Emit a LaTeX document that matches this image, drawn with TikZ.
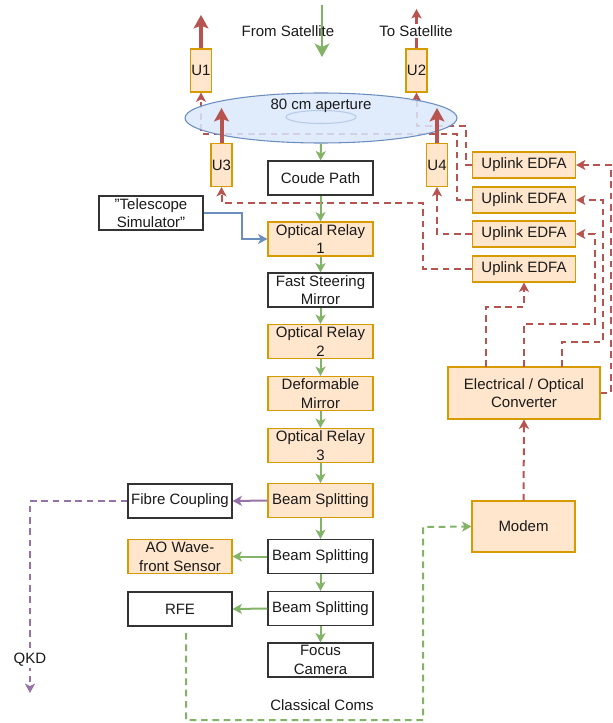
\documentclass[tikz,border=0pt]{standalone}
\usepackage{fontspec}
\setmainfont{Liberation Sans}
\usetikzlibrary{arrows.meta,shapes.geometric}
\definecolor{cred}{HTML}{B85450}
\definecolor{cgreen}{HTML}{82B366}
\definecolor{cpurple}{HTML}{9673A6}
\definecolor{cblue}{HTML}{6C8EBF}
\definecolor{borange}{HTML}{D79B00}
\definecolor{forange}{HTML}{FFE6CC}
\definecolor{fblue}{HTML}{DAE8FC}
\definecolor{cdark}{HTML}{333333}
\definecolor{ctext}{HTML}{1A1A1A}
\tikzset{
  box/.style={draw=cdark, line width=0.8pt, fill=white, align=center, inner sep=0pt,
    minimum width=105*0.75pt, minimum height=34*0.75pt, text=ctext},
  obox/.style={box, draw=borange, fill=forange},
  sbox/.style={box, minimum width=104*0.75pt},
  ebox/.style={obox, minimum width=103*0.75pt, minimum height=26*0.75pt},
  ubox/.style={obox, minimum width=21*0.75pt, minimum height=43*0.75pt},
  tip/.style={-{Stealth[length=7pt,width=7.5pt,inset=1.8pt]}},
  garrow/.style={draw=cgreen, line width=1.5pt, tip},
  parrow/.style={draw=cpurple, line width=1.5pt, tip},
  barrow/.style={draw=cblue, line width=1.5pt, tip},
  rdash/.style={draw=cred, line width=1.5pt, dash pattern=on 5pt off 3.5pt, tip},
  gdash/.style={draw=cgreen, line width=1.5pt, dash pattern=on 5pt off 3.5pt, tip},
  pdash/.style={draw=cpurple, line width=1.5pt, dash pattern=on 5pt off 3.5pt, tip},
  rthick/.style={draw=cred, line width=3pt, -{Stealth[length=10pt,width=11pt,inset=2pt]}},
  lbl/.style={text=ctext, inner sep=1pt},
}
\begin{document}
\begin{tikzpicture}[x=0.75pt,y=-0.75pt, font=\fontsize{11.25}{14}\selectfont]
\useasboundingbox (0,0) rectangle (612,723);

% central column
\node[box]  (coude) at (320.5,178) {Coude Path};
\node[obox] (or1)   at (320.5,239) {Optical Relay\\1};
\node[box]  (fsm)   at (320.5,290) {Fast Steering\\Mirror};
\node[obox] (or2)   at (320.5,341.5) {Optical Relay\\2};
\node[obox] (dm)    at (320.5,393.5) {Deformable\\Mirror};
\node[obox] (or3)   at (320.5,445.5) {Optical Relay\\3};
\node[obox] (bs1)   at (320.5,500.5) {Beam Splitting};
\node[box]  (bs2)   at (320.5,556.5) {Beam Splitting};
\node[box]  (bs3)   at (320.5,608.5) {Beam Splitting};
\node[box]  (fc)    at (320.5,660) {Focus\\Camera};

% left column
\node[sbox] (fib) at (180,501) {Fibre Coupling};
\node[sbox, draw=borange, fill=forange] (ao) at (180,556.5) {AO Wave-\\front Sensor};
\node[sbox] (rfe) at (180,609) {RFE};
\node[sbox] (tel) at (151,213) {\symbol{34}Telescope\\Simulator\symbol{34}};

% right side
\node[ebox] (e1) at (524,165) {Uplink EDFA};
\node[ebox] (e2) at (524,200) {Uplink EDFA};
\node[ebox] (e3) at (524,234) {Uplink EDFA};
\node[ebox] (e4) at (524,269) {Uplink EDFA};
\node[obox, minimum width=152*0.75pt, minimum height=52*0.75pt] (conv) at (524,393) {Electrical / Optical\\Converter};
\node[obox, minimum width=103*0.75pt, minimum height=51*0.75pt] (modem) at (523.5,526.5) {Modem};

% U boxes
\node[ubox] (u1) at (201,70.5) {U1};
\node[ubox] (u2) at (416.5,70.5) {U2};
\node[ubox] (u3) at (221.5,165) {U3};
\node[ubox] (u4) at (437,165) {U4};

% dashed red connections (behind the aperture)
\draw[rdash] (e1.west) -- (466,165) -- (466,126) -- (416.5,126) -- (u2.south);
\draw[rdash] (e2.west) -- (457,200) -- (457,134) -- (201,134) -- (u1.south);
\draw[rdash] (e3.west) -- (437,234) -- (u4.south);
\draw[rdash] (e4.west) -- (423,269) -- (423,203) -- (221.5,203) -- (u3.south);

\draw[rdash] (486,367) -- (486,307) -- (524,307) -- (e4.south);
\draw[rdash] (524,367) -- (524,324) -- (595,324) -- (595,234) -- (e3.east);
\draw[rdash] (562,367) -- (562,342) -- (603,342) -- (603,200) -- (e2.east);
\draw[rdash] (conv.east) -- (611,393) -- (611,165) -- (e1.east);
\draw[rdash] (modem.north) -- (conv.south);

% aperture
\node[ellipse, draw=cblue, line width=0.8pt, fill=fblue, fill opacity=0.85,
      minimum width=272*0.75pt, minimum height=50*0.75pt, inner sep=0pt] (ap) at (321,118) {};
\draw[cblue, opacity=0.35, line width=0.8pt] (321,117) ellipse [x radius=35*0.75pt, y radius=6.5*0.75pt];
\node[lbl] (aplbl) at (321,106) {80 cm aperture};

% thick red uplink arrows
\coordinate (u1t) at (201,15);
\coordinate (u2t) at (416.5,9);
\coordinate (u3t) at (221.5,108);
\coordinate (u4t) at (437,108);
\draw[rthick] (u1.north) -- (u1t);
\draw[draw=cred, line width=2pt, -{Stealth[length=7pt,width=7.5pt,inset=1.5pt]}] (u2.north) -- (u2t);
\draw[rthick] (u3.north) -- (u3t);
\draw[rthick] (u4.north) -- (u4t);

% from satellite
\coordinate (satA) at (322,5);
\coordinate (satB) at (322,57);
\draw[draw=cgreen, line width=2.2pt, -{Stealth[length=10pt,width=11pt,inset=2.5pt]}] (satA) -- (satB);
\node[lbl] (fromsat) at (288,31) {From Satellite};
\node[lbl, fill=white] (tosat) at (416,31) {To Satellite};

% green optical chain
\draw[garrow] (ap.south) -- (coude.north);
\draw[garrow] (coude) -- (or1);
\draw[garrow] (or1) -- (fsm);
\draw[garrow] (fsm) -- (or2);
\draw[garrow] (or2) -- (dm);
\draw[garrow] (dm) -- (or3);
\draw[garrow] (or3) -- (bs1);
\draw[garrow] (bs1) -- (bs2);
\draw[garrow] (bs2) -- (bs3);
\draw[garrow] (bs3) -- (fc);

\draw[parrow] (bs1.west) -- (fib.east);
\draw[garrow] (bs2.west) -- (ao.east);
\draw[garrow] (bs3.west) -- (rfe.east);

% telescope simulator
\draw[barrow] (tel.east) -- (242,213) -- (242,239) -- (or1.west);

% QKD
\coordinate (qkdEnd) at (30,693);
\draw[pdash] (fib.west) -- (30,501) -- (qkdEnd);
\node[lbl, fill=white] (qkd) at (30,660) {QKD};

% classical coms
\draw[gdash] (186,633) -- (186,720) -- (423,720) -- (423,527) -- (modem.west);
\node[lbl] (ccoms) at (322,705) {Classical Coms};
\end{tikzpicture}
\end{document}
